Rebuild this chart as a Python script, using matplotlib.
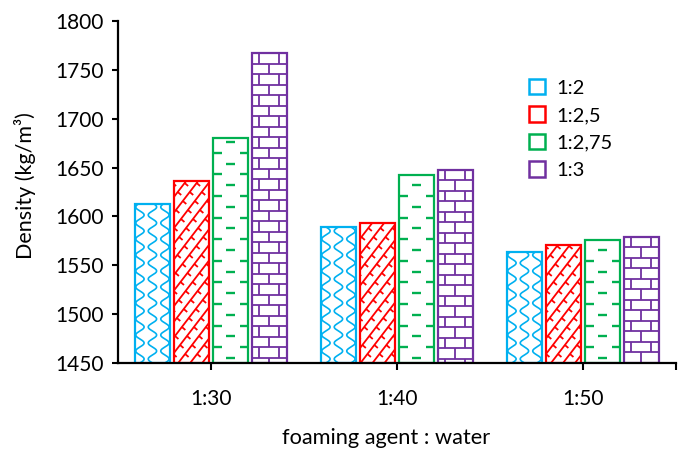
import numpy as np
import matplotlib
matplotlib.use('Agg')
import matplotlib.pyplot as plt
from matplotlib.patches import Rectangle
from matplotlib.transforms import IdentityTransform

# data
categories = ['1:30', '1:40', '1:50']
series_names = ['1:2', '1:2,5', '1:2,75', '1:3']
density_1_2 = [1613, 1589, 1564]
density_1_25 = [1636, 1593, 1571]
density_1_275 = [1680, 1642, 1576]
density_1_3 = [1767, 1648, 1579]
yticks = [1450, 1500, 1550, 1600, 1650, 1700, 1750, 1800]
base = 1450

all_series = [density_1_2, density_1_25, density_1_275, density_1_3]
colors = ['#00b0f0', '#ff0000', '#00b050', '#7030a0']
patterns = ['wave', 'divot', 'dash', 'brick']

plt.rcParams['font.family'] = ['Lato', 'DejaVu Sans']

fig = plt.figure(figsize=(6.86, 4.53), dpi=100)
ax = fig.add_axes([118/686, 90/453, 558/686, 342/453])
ax.set_xlim(-0.5, 2.5)
ax.set_ylim(1450, 1800)

x = np.arange(len(categories))
bw = 0.188
step = 0.21


def add_line(xs, ys, color, lw, patch):
    ln, = ax.plot(xs, ys, color=color, lw=lw, transform=IdentityTransform(),
                  solid_capstyle='butt', zorder=1.5)
    ln.set_clip_path(patch)


def draw_pattern(patch, kind, color):
    # pattern is drawn in pixels inside the bar
    (x0, y0), (x1, y1) = ax.transData.transform(
        [[patch.get_x(), patch.get_y()], [patch.get_x() + patch.get_width(), patch.get_y() + patch.get_height()]])
    if kind == 'wave':
        yy = np.linspace(y0, y1, 400)
        for j, cx in enumerate(np.arange(x0 + 5, x1 + 8, 12.5)):
            ph = 0 if j % 2 == 0 else np.pi
            add_line(cx + 4.2 * np.sin(2 * np.pi * (yy - y0) / 16.0 + ph), yy, color, 1.2, patch)
    elif kind == 'divot':
        sp = 12.0
        h = y1 - y0
        sl = 1.3
        for k in np.arange(-h / sl, x1 - x0 + sp, sp):
            xa = x0 + k
            add_line([xa, xa + h / sl], [y0, y0 + h], color, 1.3, patch)
            for t in np.arange(0, h, 9.0):
                px, py = xa + t / sl, y0 + t
                add_line([px, px + 3.5], [py, py - 3], color, 1.3, patch)
    elif kind == 'dash':
        r = 0
        for yy in np.arange(y0 + 5, y1 - 2, 10.8):
            if r % 2 == 0:
                cx = (x0 + x1) / 2
                add_line([cx - 4.5, cx + 4.5], [yy, yy], color, 1.7, patch)
            else:
                add_line([x0, x0 + 8.5], [yy, yy], color, 1.7, patch)
                add_line([x1 - 8.5, x1], [yy, yy], color, 1.7, patch)
            r += 1
    elif kind == 'brick':
        rows = np.arange(y1 - 10.5, y0 - 11, -10.5)
        for i, yy in enumerate(rows):
            add_line([x0, x1], [yy, yy], color, 1.3, patch)
            off = 7 if i % 2 == 0 else 17
            for vx in np.arange(x0 + off, x1, 20):
                add_line([vx, vx], [yy, yy + 10.5], color, 1.3, patch)


for i, (vals, col, pat) in enumerate(zip(all_series, colors, patterns)):
    bars = ax.bar(x + (i - 1.5) * step, np.array(vals) - base, bw, bottom=base,
                  color='white', edgecolor=col, linewidth=1.6,
                  label=series_names[i], zorder=2)
    for b in bars:
        b.set_facecolor('none')
        draw_pattern(b, pat, col)

for s in ['top', 'right']:
    ax.spines[s].set_visible(False)
for s in ['left', 'bottom']:
    ax.spines[s].set_linewidth(1.6)
    ax.spines[s].set_zorder(3)

ax.set_yticks(yticks)
ax.set_xticks([0, 1, 2, 2.5])
ax.set_xticklabels(categories + [''])
ax.tick_params(axis='y', length=4.5, width=1.5, pad=6, labelsize=15)
ax.tick_params(axis='x', length=5, width=1.5, pad=14, labelsize=15)

fig.text(25/686, 1 - 186/453, 'Density (kg/m³)', rotation=90, ha='center', va='center', fontsize=15.5)
fig.text(386/686, 1 - 438/453, 'foaming agent : water', ha='center', va='center', fontsize=15.7)

handles = [Rectangle((0, 0), 1, 1, facecolor='white', edgecolor=c, linewidth=1.8) for c in colors]
ax.legend(handles, series_names, loc='upper left', bbox_to_anchor=(529/686, 1 - 79/453),
          bbox_transform=fig.transFigure, frameon=False, fontsize=14.5, borderpad=0,
          handlelength=0.8, handleheight=0.8, handletextpad=0.55, labelspacing=0.48,
          borderaxespad=0)

fig.savefig('out.png', dpi=100)
